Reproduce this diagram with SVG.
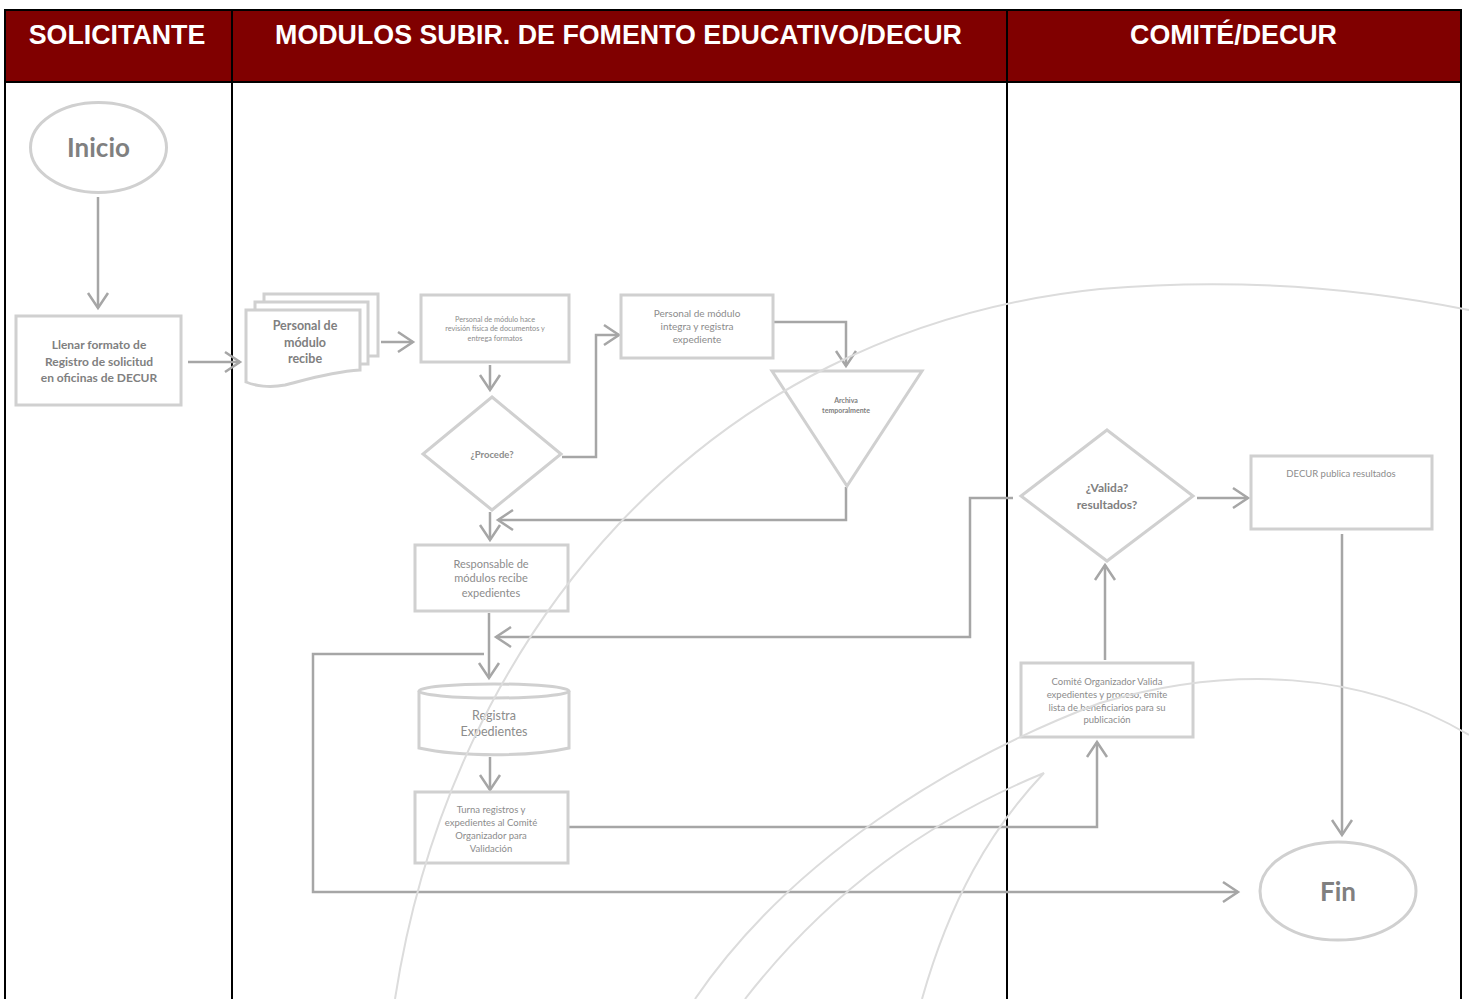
<svg xmlns="http://www.w3.org/2000/svg" width="1469" height="999" viewBox="0 0 1469 999">
<defs>
<marker id="chev" markerUnits="userSpaceOnUse" viewBox="0 0 20 22" refX="17" refY="11" markerWidth="20" markerHeight="22" orient="auto" overflow="visible">
<path d="M2,1 L17,11 L2,21" fill="none" stroke="#a6a6a6" stroke-width="2.5"/>
</marker>
</defs>
<style>
.hdr{font-family:"Liberation Sans",Arial,sans-serif;font-weight:bold;font-size:26.8px;fill:#ffffff;text-anchor:middle}
.shape{fill:none;stroke:#d0d0d0;stroke-width:3}
.wm{fill:none;stroke:#dcdcdc;stroke-width:2}
.conn{fill:none;stroke:#a6a6a6;stroke-width:2.5;marker-end:url(#chev)}
.t{font-family:Lato,"Open Sans",sans-serif;fill:#8c8c8c;text-anchor:middle}
.b{font-weight:bold;fill:#808080}
</style>
<rect x="0" y="0" width="1469" height="999" fill="#ffffff"/>
<g id="lanes">
<rect x="5" y="10" width="1456" height="72" fill="#800000"/>
<path d="M5,1000 V10 H1461 V1000 M5,82 H1461 M232,10 V1000 M1007,10 V1000" fill="none" stroke="#000000" stroke-width="2"/>
<text class="hdr" x="117" y="44">SOLICITANTE</text>
<text class="hdr" x="618.5" y="44">MODULOS SUBIR. DE FOMENTO EDUCATIVO/DECUR</text>
<text class="hdr" x="1233.5" y="44">COMITÉ/DECUR</text>
</g>
<g id="connectors">
<path class="conn" d="M98,197 V308"/>
<path class="conn" d="M188,362 H240"/>
<path class="conn" d="M381,342 H413"/>
<path class="conn" d="M490,365 V390"/>
<path class="conn" d="M562,457 H596 V335 H619"/>
<path class="conn" d="M773,322 H846 V366"/>
<path class="conn" d="M846,487 V520 H498"/>
<path class="conn" d="M490,512 V540"/>
<path class="conn" d="M489,613 V678"/>
<path class="conn" d="M1013,498 H970 V637 H496"/>
<path class="conn" d="M484,654 H313 V892 H1238"/>
<path class="conn" d="M490,757 V790"/>
<path class="conn" d="M568,827 H1097 V742"/>
<path class="conn" d="M1105,660 V565"/>
<path class="conn" d="M1197,498 H1248"/>
<path class="conn" d="M1342,534 V835"/>
</g>
<g id="inicio">
<ellipse class="shape" cx="98.5" cy="147.5" rx="68" ry="45"/>
<text class="t b" x="98.5" y="157" font-size="26">Inicio</text>
</g>
<g id="llenar">
<rect class="shape" x="16" y="316" width="165" height="89"/>
<text class="t b" font-size="12" x="99"><tspan x="99" y="349">Llenar formato de</tspan><tspan x="99" y="366">Registro de solicitud</tspan><tspan x="99" y="382">en oficinas de DECUR</tspan></text>
</g>
<g id="recibe">
<rect class="shape" x="264" y="294" width="114" height="62"/>
<rect class="shape" x="255" y="302" width="113" height="62" fill="#ffffff" style="fill:#ffffff"/>
<path class="shape" style="fill:#ffffff" d="M246,310 H360 V370 C330,372 305,380 285,385 C270,388 255,386 246,382 Z"/>
<text class="t b" font-size="12.5" x="305"><tspan x="305" y="330">Personal de</tspan><tspan x="305" y="347">módulo</tspan><tspan x="305" y="363">recibe</tspan></text>
</g>
<g id="revision">
<rect class="shape" x="421" y="295" width="148" height="67"/>
<text class="t" font-size="7.3" x="495"><tspan x="495" y="322">Personal de módulo hace</tspan><tspan x="495" y="331">revisión física de documentos y</tspan><tspan x="495" y="341">entrega formatos</tspan></text>
</g>
<g id="procede">
<polygon class="shape" points="492,397 561,454 492,510 423,454"/>
<text class="t" font-size="9.5" font-weight="bold" x="492" y="458">¿Procede?</text>
</g>
<g id="integra">
<rect class="shape" x="621" y="295" width="152" height="63"/>
<text class="t" font-size="10" x="697"><tspan x="697" y="317">Personal de módulo</tspan><tspan x="697" y="330">integra y registra</tspan><tspan x="697" y="343">expediente</tspan></text>
</g>
<g id="archiva">
<polygon class="shape" points="772,371 922,371 847,486"/>
<text class="t b" font-size="7" x="846"><tspan x="846" y="403">Archiva</tspan><tspan x="846" y="413">temporalmente</tspan></text>
</g>
<g id="responsable">
<rect class="shape" x="415" y="545" width="153" height="66"/>
<text class="t" font-size="11" x="491"><tspan x="491" y="568">Responsable de</tspan><tspan x="491" y="582">módulos recibe</tspan><tspan x="491" y="597">expedientes</tspan></text>
</g>
<g id="registra">
<path class="shape" d="M419,691 V748 C460,757 530,757 569,748 V691"/>
<ellipse class="shape" cx="494" cy="691" rx="75" ry="7"/>
<text class="t" font-size="12.5" x="494"><tspan x="494" y="720">Registra</tspan><tspan x="494" y="736">Expedientes</tspan></text>
</g>
<g id="turna">
<rect class="shape" x="415" y="792" width="153" height="71"/>
<text class="t" font-size="9.5" x="491"><tspan x="491" y="813">Turna registros y</tspan><tspan x="491" y="826">expedientes al Comité</tspan><tspan x="491" y="839">Organizador para</tspan><tspan x="491" y="852">Validación</tspan></text>
</g>
<g id="comite">
<rect class="shape" x="1021" y="663" width="172" height="74"/>
<text class="t" font-size="9.5" x="1107"><tspan x="1107" y="685">Comité Organizador Valida</tspan><tspan x="1107" y="698">expedientes y proceso, emite</tspan><tspan x="1107" y="711">lista de beneficiarios para su</tspan><tspan x="1107" y="723">publicación</tspan></text>
</g>
<g id="valida">
<polygon class="shape" points="1107,430 1193,496 1107,561 1021,496"/>
<text class="t b" font-size="12" x="1107"><tspan x="1107" y="492">¿Valida?</tspan><tspan x="1107" y="509">resultados?</tspan></text>
</g>
<g id="publica">
<rect class="shape" x="1251" y="456" width="181" height="73"/>
<text class="t" font-size="9.5" x="1341" y="477">DECUR publica resultados</text>
</g>
<g id="fin">
<ellipse class="shape" cx="1338" cy="891" rx="78" ry="49"/>
<text class="t b" x="1338" y="901" font-size="26">Fin</text>
</g>
<g id="watermark">
<path class="wm" d="M395,999 C450,640 700,330 1100,289 C1250,276 1380,292 1469,310"/>
<path class="wm" d="M695,999 C790,860 950,760 1100,703 C1230,665 1360,670 1469,735"/>
<path class="wm" d="M745,999 C830,890 930,820 1044,773 C990,830 950,900 922,999"/>
</g>
</svg>
